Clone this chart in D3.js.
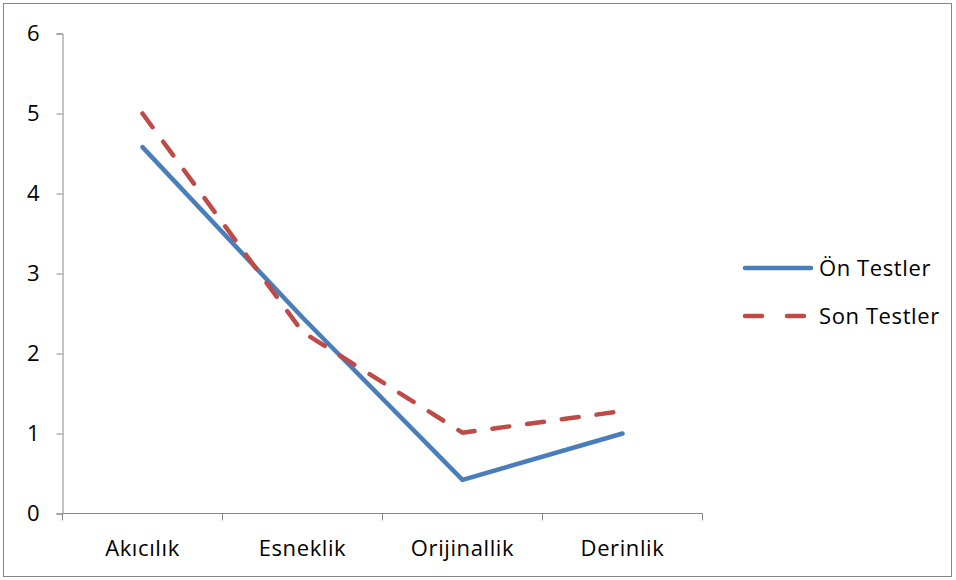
<!DOCTYPE html>
<html><head><meta charset="utf-8">
<script src="https://cdn.jsdelivr.net/npm/d3@7"></script>
<style>body{margin:0;background:#fff}svg{display:block}text{font-family:"Open Sans",sans-serif;fill:#000}</style>
</head><body><svg id="c" width="956" height="580"></svg>
<script>
const categories = ["Akıcılık","Esneklik","Orijinallik","Derinlik"];
const onTestler = [4.58, 2.45, 0.42, 1.0];
const sonTestler = [5.0, 2.27, 1.01, 1.28];
const yTicks = [0,1,2,3,4,5,6];
const seriesNames = ["Ön Testler","Son Testler"];
const colors = ["#4a7ebb","#be4b48"];

(function(){
const svg = d3.select("#c");
svg.append("rect").attr("x",3.5).attr("y",3.5).attr("width",948).attr("height",573)
  .attr("fill","#fff").attr("stroke","#868686").attr("stroke-width",1);

const pL=62.5, pR=702.5, pT=33.5, pB=513.5;
const x = d3.scaleBand().domain(categories).range([pL,pR]);
const y = d3.scaleLinear().domain([0,6]).range([pB,pT]);

const yAxis = svg.append("g").attr("transform",`translate(${pL},0)`)
  .call(d3.axisLeft(y).tickValues(yTicks).tickFormat(d3.format("d")).tickSize(6).tickPadding(17));
yAxis.select(".domain").attr("stroke","#868686");
yAxis.selectAll(".tick line").attr("stroke","#868686");
yAxis.selectAll("text").attr("font-size",22).style("font-family","Open Sans");

const xAxis = svg.append("g").attr("transform",`translate(0,${pB})`)
  .call(d3.axisBottom(x).tickSize(0).tickPadding(27));
xAxis.select(".domain").attr("stroke","#868686").attr("d",`M${pL},0H${pR}`);
xAxis.selectAll("text").attr("font-size",22).attr("letter-spacing",0.6).style("font-family","Open Sans");
const bounds = categories.map(c=>x(c)).concat([pR]);
xAxis.selectAll(".btick").data(bounds).enter().append("line").attr("class","btick")
  .attr("x1",d=>d).attr("x2",d=>d).attr("y1",0).attr("y2",7).attr("stroke","#868686");

const line = d3.line().x((d,i)=>x(categories[i])+x.bandwidth()/2).y(d=>y(d));
const data = [onTestler, sonTestler];
data.forEach((s,i)=>{
  svg.append("path").attr("d",line(s)).attr("fill","none").attr("stroke",colors[i])
    .attr("stroke-width",4.5).attr("stroke-linecap","round").attr("stroke-linejoin","round")
    .attr("stroke-dasharray", i===1 ? "17,18" : null);
});

const lg = svg.append("g");
seriesNames.forEach((n,i)=>{
  const ly = 268 + i*48;
  lg.append("line").attr("x1",745).attr("x2",811).attr("y1",ly).attr("y2",ly)
    .attr("stroke",colors[i]).attr("stroke-width",4.5).attr("stroke-linecap","round")
    .attr("stroke-dasharray", i===1 ? "17,25" : null);
  lg.append("text").attr("x",819).attr("y",ly).attr("dy","0.35em").attr("font-size",22)
    .attr("letter-spacing",0.6).text(n);
});
})();
</script></body></html>
